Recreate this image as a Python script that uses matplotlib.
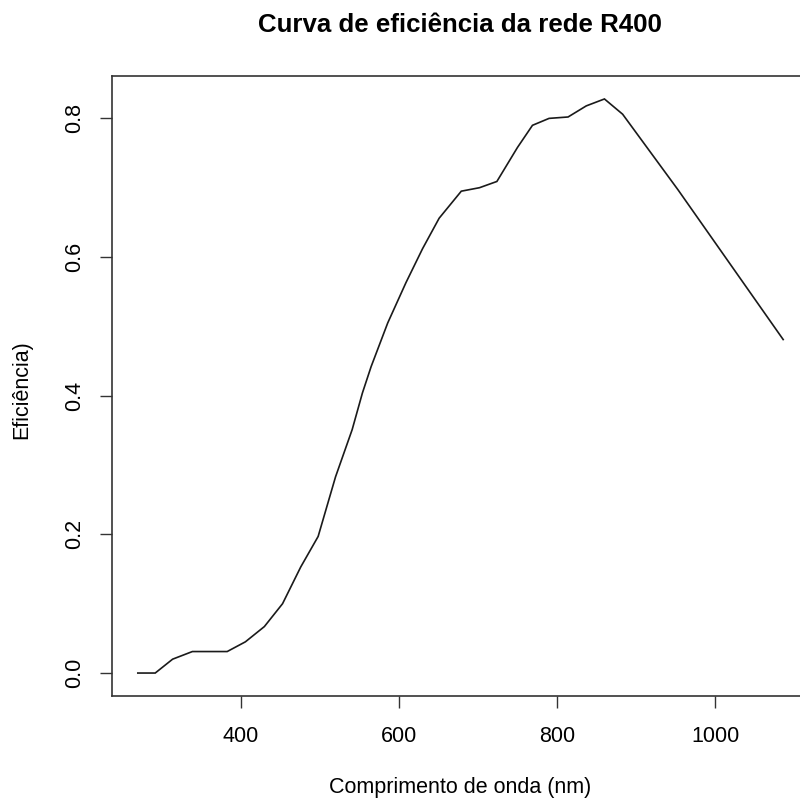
import matplotlib
matplotlib.use("Agg")
import matplotlib.pyplot as plt

# Grating efficiency curve (R400)
comprimento = [270, 292, 314, 339, 383, 406, 430, 453, 476, 498, 520, 541, 554,
               565, 577, 586, 609, 630, 651, 679, 702, 724, 750, 769, 790, 814,
               837, 860, 883, 953, 1086]
eficiencia = [0.0, 0.0, 0.020, 0.031, 0.031, 0.045, 0.067, 0.100, 0.153, 0.197,
              0.283, 0.351, 0.404, 0.442, 0.478, 0.505, 0.563, 0.612, 0.656,
              0.695, 0.700, 0.709, 0.758, 0.790, 0.800, 0.802, 0.818, 0.828,
              0.806, 0.697, 0.481]
xticks = [400, 600, 800, 1000]
yticks = [0.0, 0.2, 0.4, 0.6, 0.8]
titulo = "Curva de eficiência da rede R400"
xlabel = "Comprimento de onda (nm)"
ylabel = "Eficiência)"

plt.rcParams["font.family"] = ["Liberation Sans", "DejaVu Sans"]

W, H = 800, 805
fig = plt.figure(figsize=(W / 100, H / 100), dpi=100)
ax = fig.add_axes([112 / W, 1 - 696 / H, (809 - 112) / W, (696 - 76) / H])

ax.plot(comprimento, eficiencia, color="#1a1a1a", lw=1.2, solid_joinstyle="miter")
ax.margins(x=0.04, y=0.04)

ax.set_xticks(xticks)
ax.set_xticklabels([str(v) for v in xticks])
ax.set_yticks(yticks)
ax.set_yticklabels([f"{v:.1f}" for v in yticks], rotation=90, va="center")

ax.tick_params(axis="x", direction="out", length=8.6, width=1.0, color="#333333",
               pad=13.0, labelsize=15.5)
ax.tick_params(axis="y", direction="out", length=8.6, width=1.0, color="#333333",
               pad=11.0, labelsize=15.5)
for s in ax.spines.values():
    s.set_linewidth(1.2)
    s.set_color("#333333")

fig.text(460 / W, 1 - 32 / H, titulo, ha="center", va="baseline",
         fontsize=18.6, fontweight="bold")
fig.text(460 / W, 1 - 793 / H, xlabel, ha="center", va="baseline", fontsize=15.5)
fig.text(22 / W, 1 - 390 / H, ylabel, ha="center", va="center", rotation=90,
         fontsize=15.5)

fig.savefig("out.png", dpi=100)
